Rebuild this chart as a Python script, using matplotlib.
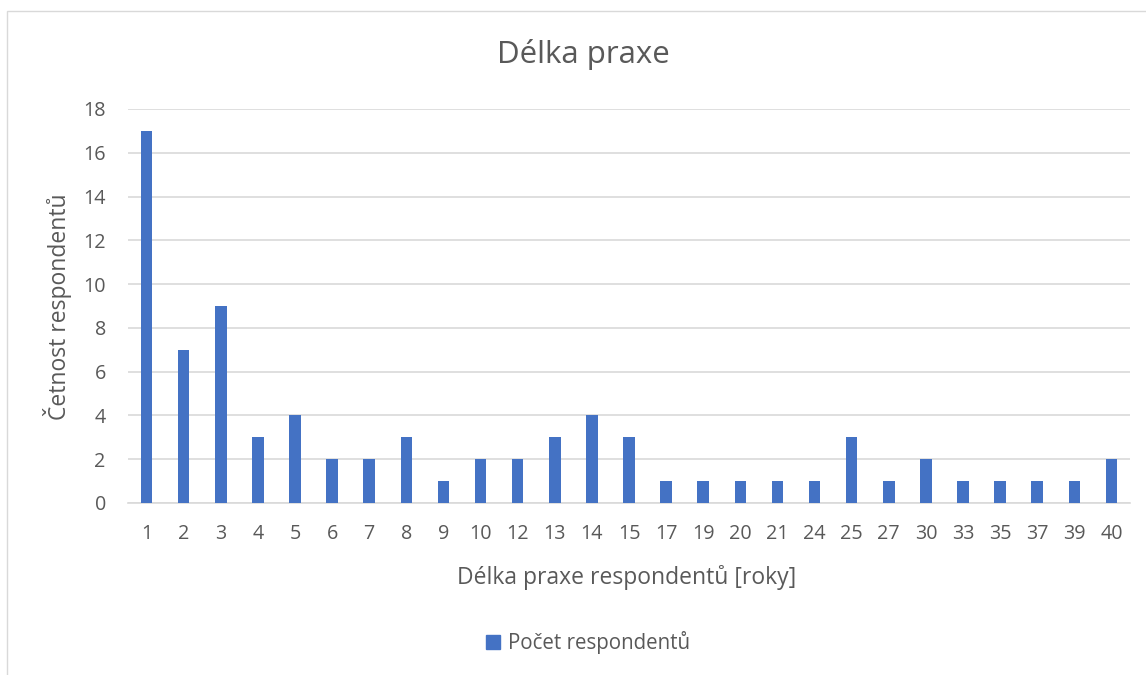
import matplotlib
matplotlib.use("Agg")
import matplotlib.pyplot as plt
from matplotlib.patches import Rectangle
import numpy as np

years = ["1", "2", "3", "4", "5", "6", "7", "8", "9", "10", "12", "13", "14", "15",
         "17", "19", "20", "21", "24", "25", "27", "30", "33", "35", "37", "39", "40"]
counts = [17, 7, 9, 3, 4, 2, 2, 3, 1, 2, 2, 3, 4, 3,
          1, 1, 1, 1, 1, 3, 1, 2, 1, 1, 1, 1, 2]
y_ticks = [0, 2, 4, 6, 8, 10, 12, 14, 16, 18]

BAR = "#4472C4"
TXT = "#595959"
GRID = "#D9D9D9"

plt.rcParams["font.family"] = ["Open Sans", "DejaVu Sans"]

fig = plt.figure(figsize=(11.46, 6.75), dpi=100)
W, H = 1146, 675

# chart border (only top/left visible in the original)
fig.patches.append(Rectangle((7 / W, 0 - 0.05), 1.2, 1 - 11 / H + 0.05,
                             transform=fig.transFigure, fill=False,
                             edgecolor="#D9D9D9", lw=1))

ax = fig.add_axes([128 / W, 1 - 503 / H, (1130 - 128) / W, (503 - 109) / H])
x = np.arange(len(years))
ax.bar(x, counts, width=0.31, color=BAR, zorder=3)
ax.set_xlim(-0.5, len(years) - 0.5)
ax.set_ylim(0, 18)
ax.set_yticks(y_ticks)
ax.set_xticks(x)
ax.set_xticklabels(years)
ax.grid(axis="y", color=GRID, lw=1.2, zorder=0)
for s in ["top", "right", "left"]:
    ax.spines[s].set_visible(False)
ax.spines["bottom"].set_color(GRID)
ax.spines["bottom"].set_linewidth(1.2)
ax.tick_params(length=0, labelsize=14.2, colors=TXT)
ax.tick_params(axis="x", pad=15)
ax.tick_params(axis="y", pad=16)

# axis titles placed like the original
fig.text(627 / W, 1 - 578 / H, "Délka praxe respondentů [roky]", fontsize=16.5,
         color=TXT, ha="center", va="center")
fig.text(57 / W, 1 - 307 / H, "Četnost respondentů", fontsize=16.5,
         color=TXT, ha="center", va="center", rotation=90)

fig.text(583 / W, 1 - 55 / H, "Délka praxe", fontsize=22.5, color=TXT,
         ha="center", va="center")

handle = Rectangle((0, 0), 1, 1, color=BAR)
fig.legend([handle], ["Počet respondentů"], loc="center",
           bbox_to_anchor=(588 / W, 1 - 643 / H), frameon=False,
           fontsize=14.8, labelcolor=TXT, handlelength=0.65, handleheight=0.65,
           handletextpad=0.4)

fig.savefig("out.png", dpi=100)
